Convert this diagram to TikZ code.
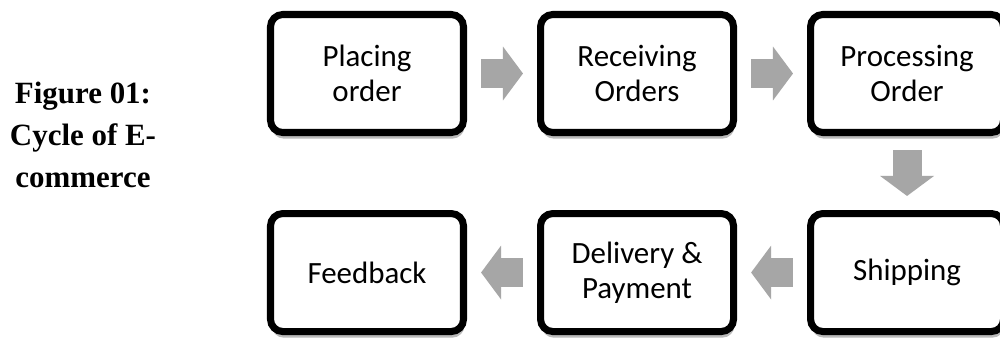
\documentclass[tikz,border=0pt]{standalone}
\usepackage{fontspec}
\setmainfont{Carlito}
\newfontfamily\captionfont{Liberation Serif}
\usetikzlibrary{positioning, shadows, arrows.meta}
\definecolor{flowgray}{RGB}{166,166,166}
\tikzstyle{stage} = [draw, line width=4pt, rounded corners=7pt, fill=white, minimum width=3.86cm, minimum height=2.36cm, align=center, font=\fontsize{17.6}{20}\selectfont, drop shadow={shadow xshift=0.6pt, shadow yshift=-3.5pt, fill=black!45, opacity=0.6}]
\tikzstyle{flow} = [line width=16.5pt, flowgray, -{Triangle[width=30.7pt 0, length=11.4pt 0, line width=0pt 0]}, shorten <=8pt, shorten >=8pt]

\begin{document}
\begin{tikzpicture}
		\useasboundingbox[fill=white] (0,0) rectangle (20,-6.78);

		\node[font=\captionfont\bfseries\fontsize{17.6}{23.9}\selectfont, align=center, anchor=north, inner sep=0pt] (caption) at (1.66,-1.64) {Figure 01:\\Cycle of E-\\commerce};

		\node[stage] (placing) at (7.34,-1.47) {Placing\\order};
		\node[stage, right=1.4cm of placing] (receiving) {Receiving\\Orders};
		\node[stage, right=1.4cm of receiving] (processing) {Processing\\Order};
		\node[stage, below=1.48cm of processing] (shipping) {Shipping};
		\node[stage, left=1.4cm of shipping] (delivery) {Delivery \&\\Payment};
		\node[stage, left=1.4cm of delivery] (feedback) {Feedback};

		\draw[flow] (placing) -- (receiving);
		\draw[flow] (receiving) -- (processing);
		\draw[flow] (processing) -- (shipping);
		\draw[flow] (shipping) -- (delivery);
		\draw[flow] (delivery) -- (feedback);

	\end{tikzpicture}
\end{document}
